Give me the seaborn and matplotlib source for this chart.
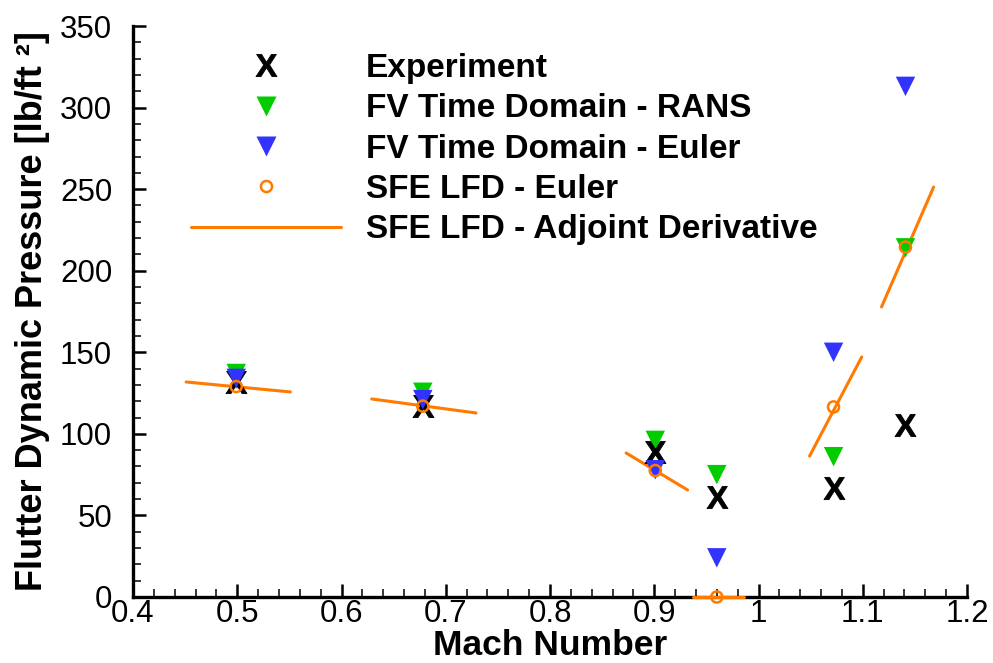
import numpy as np
import pandas as pd
import matplotlib
matplotlib.use("Agg")
import matplotlib.pyplot as plt
from matplotlib.lines import Line2D
from matplotlib.ticker import MultipleLocator
import seaborn as sns

# ---- data ----
mach = [0.499, 0.678, 0.901, 0.960, 1.072, 1.141]
exp_q = [132.0, 117.0, 89.0, 61.0, 67.0, 105.5]
rans_q = [137.0, 125.5, 96.0, 75.0, 86.0, 214.0]
euler_q = [134.0, 121.0, 78.0, 24.0, 150.0, 313.0]
lfd_q = [129.0, 117.0, 77.5, 0.0, 116.5, 214.5]
# adjoint-derivative segments (end points)
seg_m0 = [0.451, 0.629, 0.873, 0.937, 1.049, 1.118]
seg_m1 = [0.551, 0.729, 0.932, 0.986, 1.099, 1.168]
seg_q0 = [131.8, 121.4, 88.3, 0.0, 86.4, 177.8]
seg_q1 = [125.7, 112.8, 65.6, 0.0, 147.1, 251.3]

labels = ["Experiment", "FV Time Domain - RANS", "FV Time Domain - Euler",
          "SFE LFD - Euler", "SFE LFD - Adjoint Derivative"]

GREEN = "#00CC00"
BLUE = "#3333FF"
ORANGE = "#FF7A00"

sns.set_theme(style="ticks")
plt.rcParams["font.family"] = ["Liberation Sans", "DejaVu Sans"]
plt.rcParams["mathtext.fontset"] = "custom"
plt.rcParams["mathtext.bf"] = "Liberation Sans:bold"
plt.rcParams["mathtext.rm"] = "Liberation Sans"
plt.rcParams["text.color"] = "black"
plt.rcParams["axes.labelcolor"] = "black"
plt.rcParams["xtick.color"] = "black"
plt.rcParams["ytick.color"] = "black"
plt.rcParams["axes.edgecolor"] = "black"

fig = plt.figure(figsize=(9.93, 6.63), dpi=100)
ax = fig.add_axes([133 / 993, 1 - 597 / 663, (967 - 133) / 993, (597 - 26) / 663])

seg_df = pd.DataFrame({
    "M": seg_m0 + seg_m1,
    "q": seg_q0 + seg_q1,
    "seg": list(range(len(seg_m0))) * 2,
})
sns.lineplot(data=seg_df, x="M", y="q", units="seg", estimator=None,
             color=ORANGE, lw=2.2, ax=ax, legend=False, zorder=3, clip_on=False)

XMARK = r"$\mathbf{X}$"
sns.scatterplot(x=mach, y=rans_q, marker="v", s=14**2, color=GREEN,
                edgecolor="none", ax=ax, zorder=3.5, clip_on=False)
sns.scatterplot(x=mach, y=exp_q, marker=XMARK, s=16**2, color="black",
                edgecolor="black", linewidth=0.6, ax=ax, zorder=4, clip_on=False)
sns.scatterplot(x=mach, y=euler_q, marker="v", s=14**2, color=BLUE,
                edgecolor="none", ax=ax, zorder=4.5, clip_on=False)
sns.scatterplot(x=mach, y=lfd_q, marker="o", s=8**2, facecolor="none",
                edgecolor=ORANGE, linewidth=1.8, ax=ax, zorder=6, clip_on=False)

ax.set_xlim(0.4, 1.2)
ax.set_ylim(0, 350)
ax.xaxis.set_major_locator(MultipleLocator(0.1))
ax.xaxis.set_minor_locator(MultipleLocator(0.02))
ax.yaxis.set_major_locator(MultipleLocator(50))
ax.yaxis.set_minor_locator(MultipleLocator(10))
ax.xaxis.set_major_formatter(matplotlib.ticker.FuncFormatter(lambda v, p: f"{v:g}"))

sns.despine(ax=ax)
for s in ["left", "bottom"]:
    ax.spines[s].set_linewidth(2.4)
    ax.spines[s].set_color("black")
ax.tick_params(which="major", direction="in", length=9.5, width=1.8,
               labelsize=22.5, color="black", labelcolor="black")
ax.tick_params(which="minor", direction="in", length=5.5, width=1.1, color="black")
ax.tick_params(axis="x", which="major", pad=1.5)
ax.tick_params(axis="y", which="major", pad=15)

ax.set_xlabel("Mach Number", fontsize=25.5, fontweight="bold", va="center", color="black")
ax.set_ylabel("Flutter Dynamic Pressure [lb/ft \u00b2]", fontsize=26,
              fontweight="bold", va="center", color="black")
ax.xaxis.set_label_coords(0.5, (597 - 645.5) / 571)
ax.yaxis.set_label_coords((33 - 133) / 834, 0.5)

handles = [
    Line2D([], [], ls="none", marker=XMARK, ms=16, color="black", mew=0.6),
    Line2D([], [], ls="none", marker="v", ms=14, color=GREEN, mec="none"),
    Line2D([], [], ls="none", marker="v", ms=14, color=BLUE, mec="none"),
    Line2D([], [], ls="none", marker="o", ms=8, mfc="none", mec=ORANGE, mew=1.8),
    Line2D([], [], color=ORANGE, lw=2.2),
]
leg = ax.legend(handles, labels, loc="upper left",
                bbox_to_anchor=(191 / 993, 1 - 53 / 663), bbox_transform=fig.transFigure,
                frameon=False, borderpad=0, borderaxespad=0,
                handlelength=4.5, handletextpad=0.75, labelspacing=0.28,
                prop={"size": 24, "weight": "bold"})
for t in leg.get_texts():
    t.set_color("black")

fig.savefig("out.png", dpi=100)
